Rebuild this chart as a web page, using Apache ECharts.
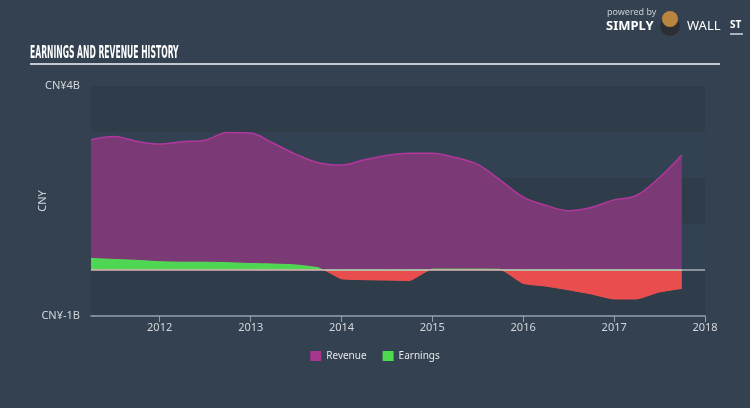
<!DOCTYPE html>
<html>
<head>
<meta charset="utf-8">
<script src="https://cdn.jsdelivr.net/npm/echarts@6/dist/echarts.min.js"></script>
<style>html,body{margin:0;padding:0;background:#334150;}#c{width:750px;height:408px;}</style>
</head>
<body>
<div id="c"></div>
<script>
const dates = ['2011-03-31','2011-06-30','2011-09-30','2011-12-31','2012-03-31','2012-06-30','2012-09-30','2012-12-31','2013-03-31','2013-06-30','2013-09-30','2013-12-31','2014-03-31','2014-06-30','2014-09-30','2014-12-31','2015-03-31','2015-06-30','2015-09-30','2015-12-31','2016-03-31','2016-06-30','2016-09-30','2016-12-31','2017-03-31','2017-06-30','2017-09-30'];
const revenue = [2.83,2.90,2.80,2.74,2.79,2.82,2.99,2.98,2.76,2.52,2.33,2.28,2.39,2.49,2.54,2.54,2.45,2.30,1.96,1.59,1.41,1.29,1.36,1.52,1.62,2.00,2.50];
const earnings = [0.25,0.23,0.21,0.18,0.17,0.17,0.16,0.14,0.13,0.11,0.05,-0.19,-0.21,-0.22,-0.23,0.02,0.02,0.02,0.015,-0.29,-0.35,-0.43,-0.52,-0.63,-0.63,-0.48,-0.40];
const yearTicks = ['2012','2013','2014','2015','2016','2017','2018'];
const yLabels = {'4':'CN¥4B','-1':'CN¥-1B'};

const chart = echarts.init(document.getElementById('c'));
const ts = d => Date.UTC(+d.slice(0,4), +d.slice(5,7) - 1, +d.slice(8,10));
const tickVals = yearTicks.map(y => Date.UTC(+y, 0, 1));
const txt = '#d3d7db';

// earnings points with zero crossings inserted (linear), split into positive / negative parts
const ePts = [];
for (let i = 0; i < dates.length; i++) {
  const t = ts(dates[i]), v = earnings[i];
  if (i > 0) {
    const t0 = ts(dates[i - 1]), v0 = earnings[i - 1];
    if ((v0 > 0 && v < 0) || (v0 < 0 && v > 0)) {
      ePts.push([t0 + (t - t0) * v0 / (v0 - v), 0]);
    }
  }
  ePts.push([t, v]);
}
const ePos = ePts.map(p => [p[0], Math.max(p[1], 0)]);
const eNeg = ePts.map(p => [p[0], Math.min(p[1], 0)]);

chart.setOption({
  backgroundColor: '#334150',
  animation: false,
  grid: {left: 91, right: 45, top: 86, bottom: 92},
  legend: {
    bottom: 42, left: 'center', icon: 'rect', itemWidth: 11, itemHeight: 10, itemGap: 16,
    textStyle: {color: '#e4e6e8', fontSize: 10, fontFamily: 'Noto Sans'},
    data: [
      {name: 'Revenue', itemStyle: {color: '#a8368f'}},
      {name: 'Earnings', itemStyle: {color: '#4fd94f'}}
    ]
  },
  xAxis: {
    type: 'value',
    min: ts(dates[0]),
    max: tickVals[tickVals.length - 1],
    axisLine: {onZero: false, lineStyle: {color: '#95a2ae', width: 1.5}},
    axisTick: {show: true, customValues: tickVals, length: 6, lineStyle: {color: '#95a2ae'}},
    axisLabel: {customValues: tickVals, color: txt, fontSize: 11, fontFamily: 'Noto Sans', margin: 6,
      formatter: v => String(new Date(v).getUTCFullYear())},
    splitLine: {show: false}
  },
  yAxis: {
    type: 'value', min: -1, max: 4, interval: 1,
    name: 'CNY', nameLocation: 'middle', nameRotate: 90, nameGap: 43, nameMoveOverlap: false,
    nameTextStyle: {color: txt, fontSize: 11, fontFamily: 'Noto Sans'},
    axisLine: {show: false}, axisTick: {show: false},
    axisLabel: {color: txt, fontSize: 11, fontFamily: 'Noto Sans', margin: 11,
      formatter: v => yLabels[String(v)] || ''},
    splitLine: {show: false},
    splitArea: {show: true, areaStyle: {color: ['#2f3c4a', '#334252']}}
  },
  series: [
    {
      name: 'Revenue', type: 'line', smooth: 0.35, symbol: 'none', z: 2,
      data: dates.map((d, i) => [ts(d), revenue[i]]),
      lineStyle: {color: '#b0389c', width: 1.5},
      itemStyle: {color: '#a8368f'},
      areaStyle: {color: '#7b3a76', opacity: 1}
    },
    {
      name: 'Earnings', type: 'line', smooth: 0.15, symbol: 'none', z: 3,
      data: ePos,
      itemStyle: {color: '#4fd94f'},
      lineStyle: {width: 1, color: '#55de55'},
      areaStyle: {color: '#4fd652', opacity: 1}
    },
    {
      name: 'Earnings', type: 'line', smooth: 0.15, symbol: 'none', z: 3,
      data: eNeg,
      itemStyle: {color: '#ec4e4e'},
      lineStyle: {width: 1, color: '#f05050'},
      areaStyle: {color: '#ea4d4d', opacity: 1},
      markLine: {silent: true, symbol: 'none', label: {show: false},
        lineStyle: {color: 'rgba(215,220,226,0.7)', width: 1.5, type: 'solid'},
        data: [{yAxis: 0}]}
    }
  ],
  graphic: [
    {type: 'text', x: 30, y: 45, scaleX: 0.5, z: 10,
      style: {text: 'EARNINGS AND REVENUE HISTORY', fill: '#ffffff', font: 'bold 17px "DejaVu Sans Condensed"'}},
    {type: 'line', shape: {x1: 30, y1: 64, x2: 720, y2: 64}, style: {stroke: '#c3c8ce', lineWidth: 2}},
    {type: 'text', x: 607, y: 8, style: {text: 'powered by', fill: '#c8ccd0', font: '9px "Noto Sans"'}},
    {type: 'text', x: 606, y: 20, style: {text: 'SIMPLY', fill: '#ffffff', font: 'bold 13px "Noto Sans"'}},
    {type: 'circle', shape: {cx: 670, cy: 26, r: 10}, style: {fill: '#2b2f35'}},
    {type: 'circle', shape: {cx: 670, cy: 19, r: 8}, style: {fill: '#b9853f'}},
    {type: 'text', x: 687, y: 20, style: {text: 'WALL', fill: '#ffffff', font: '13px "Noto Sans"'}},
    {type: 'text', x: 730, y: 20, style: {text: 'ST', fill: '#ffffff', font: 'bold 10px "Noto Sans"'}},
    {type: 'line', shape: {x1: 730, y1: 34, x2: 743, y2: 34}, style: {stroke: '#ffffff', lineWidth: 1.2}}
  ]
});
</script>
</body>
</html>
